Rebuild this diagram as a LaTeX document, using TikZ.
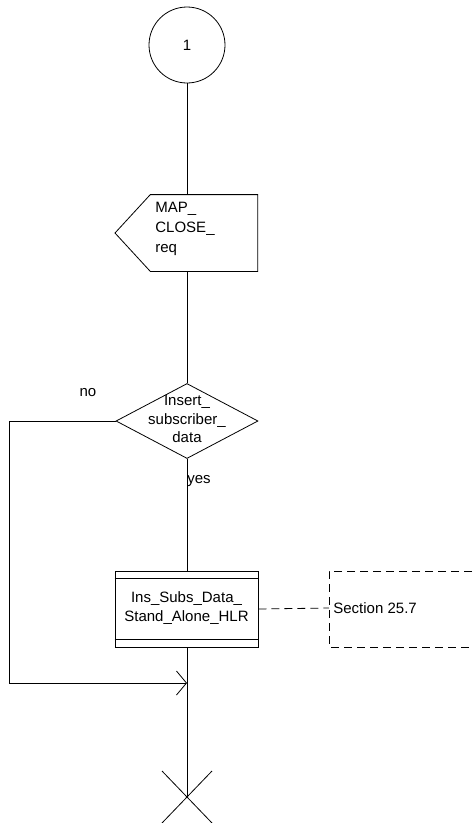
\documentclass[tikz,border=0pt]{standalone}
\usepackage{fontspec}
\setmainfont{Liberation Sans}
\usetikzlibrary{shapes.geometric,arrows.meta}
\begin{document}
\begin{tikzpicture}[x=1pt,y=-1pt,line width=0.8pt,
  every node/.style={font=\fontsize{15}{18.5}\selectfont},
  lbl/.style={inner sep=0pt},
  dashline/.style={dash pattern=on 8pt off 5pt},
  openarrow/.style={-{Straight Barb[length=10pt,width=24pt,line width=0.8pt]}}]
\useasboundingbox (0,0) rectangle (472,823);
% start connector
\node[draw,circle,minimum size=76pt,inner sep=0pt] (c1) at (187,45) {1};
% output signal
\node[minimum width=106.6pt,minimum height=76pt,inner sep=0pt] (map) at (204,233) {};
\draw (map.north west) -- (map.north east) -- (map.south east) -- (map.south west) -- (115,233) -- cycle;
\node[lbl,align=left,anchor=north west,font=\fontsize{15}{20}\selectfont] (maptxt) at (155,202) {MAP\_\\CLOSE\_\\req};
% decision
\node[draw,diamond,minimum width=142pt,minimum height=75pt,inner sep=0pt] (dec) at (187,421) {};
\node[lbl,align=center] (dectxt) at (187,419) {Insert\_\\subscriber\_\\data};
\node[lbl] (no) at (88,393) {no};
\node[lbl] (yes) at (199,481) {yes};
% procedure
\node[draw,minimum width=143pt,minimum height=76pt,inner sep=0pt] (proc) at (186.5,609) {};
\draw ([yshift=-8pt]proc.north west) -- ([yshift=-8pt]proc.north east);
\draw ([yshift=8.5pt]proc.south west) -- ([yshift=8.5pt]proc.south east);
\node[lbl,align=center] (proctxt) at (186.5,608) {Ins\_Subs\_Data\_\\Stand\_Alone\_HLR};
% annotation
\coordinate (annot) at (329,608);
\draw[dashline] (proc.east) -- (annot);
\draw[dashline] (472,571) -- (329,571) -- (329,647) -- (472,647);
\node[lbl,anchor=west] (sec) at (333,608) {Section 25.7};
% merge and end
\coordinate (merge) at (187,683);
\coordinate (endpt) at (187,797);
\coordinate (noturn) at (9,421);
% connectors
\draw (c1.south) -- (map.north -| c1.south);
\draw (map.south -| c1.south) -- (dec.north);
\draw (dec.south) -- (proc.north -| dec.south);
\draw (proc.south -| dec.south) -- (endpt);
\draw[openarrow] (dec.west) -- (noturn) |- (merge);
\draw (162,771) -- (212,823);
\draw (212,771) -- (162,823);
\end{tikzpicture}
\end{document}
